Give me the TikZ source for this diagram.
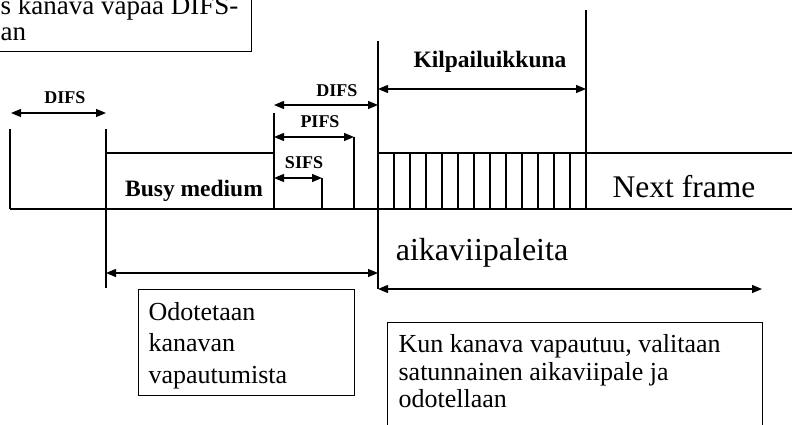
\documentclass[tikz,border=0pt]{standalone}
\usepackage{fontspec}
\setmainfont{Liberation Serif}
\usetikzlibrary{arrows.meta}
\begin{document}
\begin{tikzpicture}[x=1pt,y=-1pt,line width=1.2pt,
  dim/.style={{Triangle[length=10pt,width=8pt]}-{Triangle[length=10pt,width=8pt]}},
  lbl/.style={font=\bfseries\fontsize{18}{20}\selectfont, anchor=base, inner sep=0pt},
  biglbl/.style={font=\bfseries\fontsize{23.5}{26}\selectfont, anchor=base, inner sep=0pt},
  huge/.style={font=\fontsize{32}{36}\selectfont, anchor=base, inner sep=0pt},
  txt/.style={font=\fontsize{26}{30}\selectfont, anchor=base west, inner sep=0pt},
  boxed/.style={draw, anchor=north west, inner sep=0pt, line width=1.1pt}]
\useasboundingbox (0,0) rectangle (792,425);
\clip (0,0) rectangle (792,425);

% boxes
\node[boxed, minimum width=266pt, minimum height=66pt] (note) at (-15,-15) {};
\node[txt, font=\fontsize{27}{30}\selectfont] (n1) at (0,15) {s kanava vapaa DIFS-};
\node[txt, font=\fontsize{27}{30}\selectfont] (n2) at (0,41) {an};

\node[boxed, minimum width=216pt, minimum height=106pt] (wait) at (138,289) {};
\node[txt] (w1) at (148,320) {Odotetaan};
\node[txt] (w2) at (148,351) {kanavan};
\node[txt] (w3) at (148,383) {vapautumista};

\node[boxed, minimum width=375pt, minimum height=130pt] (kun) at (387,322) {};
\node[txt] (k1) at (398,352) {Kun kanava vapautuu, valitaan};
\node[txt] (k2) at (398,380) {satunnainen aikaviipale ja};
\node[txt] (k3) at (398,407) {odotellaan};

% coordinates
\coordinate (b0) at (10,209);
\coordinate (bE) at (792,209);
\coordinate (v0t) at (10,129);
\coordinate (v1t) at (106,129);
\coordinate (v1b) at (106,288);
\coordinate (bm1) at (106,153);
\coordinate (bm2) at (274,153);
\coordinate (v2t) at (274,113);
\coordinate (v2b) at (274,209);
\coordinate (v3t) at (322,178);
\coordinate (v3b) at (322,209);
\coordinate (v4t) at (354,137);
\coordinate (v4b) at (354,209);
\coordinate (v5t) at (378,41);
\coordinate (v5b) at (378,289);
\coordinate (s1) at (378,153);
\coordinate (s2) at (792,153);
\coordinate (v6t) at (586,10);
\coordinate (v6b) at (586,209);

% timeline
\draw (b0) -- (bE);
\draw (v0t) -- (b0);
\draw (v1t) -- (v1b);
\draw (bm1) -- (bm2);
\draw (v2t) -- (v2b);
\draw (v3t) -- (v3b);
\draw (v4t) -- (v4b);
\draw (v5t) -- (v5b);
\draw (s1) -- (s2);
\draw (v6t) -- (v6b);
\foreach \i in {1,...,12} {
  \draw (378+16*\i,153) -- (378+16*\i,209);
}

% dimension arrows
\draw[dim] (11,113) -- (v1t |- 0,113);
\draw[dim] (v2t |- 0,105) -- (v5t |- 0,105);
\draw[dim] (v4t -| v2t) -- (v4t);
\draw[dim] (v3t -| v2t) -- (v3t);
\draw[dim] (v5t |- 0,89) -- (v6t |- 0,89);
\draw[dim] (106,273) -- (378,273);
\coordinate (aE) at (762,289);
\draw[dim] (v5b) -- (aE);

% labels
\node[lbl] (difs1) at (65,104) {DIFS};
\node[lbl] (difs2) at (337,97) {DIFS};
\node[lbl] (pifs) at (320,128) {PIFS};
\node[lbl] (sifs) at (304,168) {SIFS};
\node[biglbl] (busy) at (194,196) {Busy medium};
\node[biglbl] (kilp) at (490,68) {Kilpailuikkuna};
\node[huge, font=\fontsize{31.5}{36}\selectfont] (next) at (684,197) {Next frame};
\node[huge] (aika) at (482,260) {aikaviipaleita};
\end{tikzpicture}
\end{document}
